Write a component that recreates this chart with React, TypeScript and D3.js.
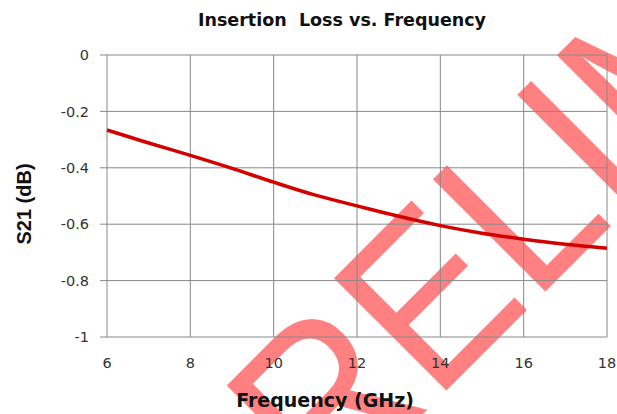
import * as d3 from 'd3';

// values (GHz, dB)
const freq = [6, 7, 8, 9, 10, 11, 12, 13, 14, 15, 16, 17, 18];
const s21 = [-0.266, -0.312, -0.356, -0.402, -0.451, -0.497, -0.535, -0.572, -0.605, -0.632, -0.653, -0.671, -0.685];
const xTicks = [6, 8, 10, 12, 14, 16, 18];
const yTicks = [0, -0.2, -0.4, -0.6, -0.8, -1];
const yLabels = ['0', '-0.2', '-0.4', '-0.6', '-0.8', '-1'];

const W = 617;
const H = 414;
const left = 107, right = 607, top = 55, bottom = 337;

const App = () => {
    const x = d3.scaleLinear().domain([6, 18]).range([left, right]);
    const y = d3.scaleLinear().domain([-1, 0]).range([bottom, top]);

    const line = d3.line<number>()
        .x((_, i) => x(freq[i]))
        .y(d => y(d))
        .curve(d3.curveMonotoneX);

    const tickFont = '"DejaVu Sans", Verdana, sans-serif';
    const arial = '"Liberation Sans", Arial, sans-serif';

    return (
        <svg width={W} height={H} style={{ position: 'absolute', left: 0, top: 0, background: '#fff' }}>
            {/* watermark, sits behind the chart */}
            <text
                transform="translate(228,609) rotate(-45) scale(1,1.1)"
                fontFamily={arial}
                fontSize={210}
                fill="#ff8080"
            >PRELIMINARY</text>

            <text x={342} y={26} textAnchor="middle" fontFamily={tickFont} fontWeight="bold"
                fontSize={17.5} fill="#111" style={{ whiteSpace: 'pre' }}>
                {'Insertion  Loss vs. Frequency'}
            </text>

            {/* horizontal grid + y ticks */}
            {yTicks.map((t, i) => (
                <g key={t}>
                    <line x1={left - 7} x2={right} y1={y(t)} y2={y(t)} stroke="#888" strokeWidth={1} />
                    <text x={89} y={y(t)} dy="0.36em" textAnchor="end" fontFamily={tickFont}
                        fontSize={14.5} fill="#333">{yLabels[i]}</text>
                </g>
            ))}
            {/* vertical grid + x ticks */}
            {xTicks.map(t => (
                <g key={t}>
                    <line x1={x(t)} x2={x(t)} y1={top} y2={bottom} stroke="#888" strokeWidth={1} />
                    <text x={x(t)} y={363} dy="0.36em" textAnchor="middle" fontFamily={tickFont}
                        fontSize={14.5} fill="#333">{t}</text>
                </g>
            ))}

            <path d={line(s21) ?? ''} fill="none" stroke="#d40000" strokeWidth={3.5} />

            <text transform="translate(31,204) rotate(-90)" textAnchor="middle" fontFamily={arial}
                fontWeight="bold" fontSize={20} fill="#111">S21 (dB)</text>
            <text x={325} y={407} textAnchor="middle" fontFamily={tickFont} fontWeight="bold"
                fontSize={19} fill="#111">Frequency (GHz)</text>
        </svg>
    );
};

export default App;
